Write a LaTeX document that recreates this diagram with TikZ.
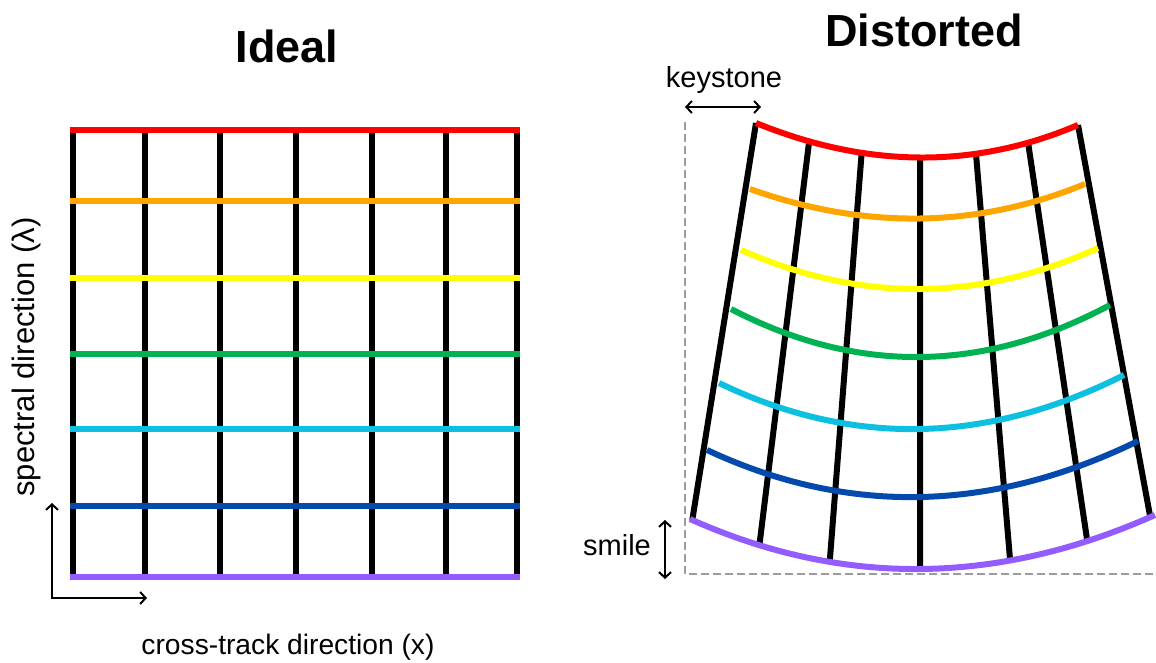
\documentclass[tikz,border=0pt]{standalone}
\usepackage{fontspec}
\setmainfont{Liberation Sans}
\usetikzlibrary{arrows.meta,calc}
\definecolor{rowred}{RGB}{255,0,0}
\definecolor{roworange}{RGB}{255,165,0}
\definecolor{rowyellow}{RGB}{255,255,0}
\definecolor{rowgreen}{RGB}{0,178,82}
\definecolor{rowcyan}{RGB}{14,192,224}
\definecolor{rowblue}{RGB}{4,74,172}
\definecolor{rowpurple}{RGB}{146,92,255}
\definecolor{guide}{RGB}{155,155,160}
\begin{document}
\begin{tikzpicture}[x=1pt,y=-1pt,
  gridline/.style={line width=6pt,black},
  band/.style={line width=6pt},
  guideline/.style={guide,line width=2.2pt,dash pattern=on 8pt off 4pt},
  tip/.tip={Straight Barb[length=5.5pt,width=12pt,line width=2pt]},
  axes/.style={line width=2pt,{tip}-{tip}},
  span/.style={line width=2pt,{tip}-{tip}},
  label/.style={font=\fontsize{29}{35}\selectfont,inner sep=0pt},
  heading/.style={font=\fontsize{45}{54}\selectfont\bfseries,inner sep=0pt}]
\useasboundingbox (0,0) rectangle (1156,662);

% ---------- ideal grid ----------
\foreach \x in {72.5,145,220,296,372,446,517}
  \draw[gridline] (\x,130) -- (\x,576.5);
\foreach \y/\c in {130/rowred,201/roworange,278/rowyellow,354/rowgreen,
                   429/rowcyan,505.5/rowblue,576.5/rowpurple}
  \draw[band,\c] (69.5,\y) -- (520,\y);

% axes
\coordinate (yend) at (52,503);
\coordinate (origin) at (52,598);
\coordinate (xend) at (147,598);
\draw[axes] (yend) -- (origin) -- (xend);

\node[heading,anchor=base] (ideal) at (287,62) {Ideal};
\node[label,font=\fontsize{28.2}{34}\selectfont,anchor=base] (xlabel) at (288,654) {cross-track direction (x)};
\node[label,font=\fontsize{31}{37}\selectfont,rotate=90] (ylabel) at (26,357) {spectral direction (λ)};

% ---------- distorted grid ----------
% top edge (red) and bottom edge (purple) carry the column end points
\path (756,123) .. controls ($(756,123)!2/3!(923,191)$) and ($(1078,125)!2/3!(923,191)$) .. (1078,125)
  coordinate[pos=0] (t0) coordinate[pos=0.16] (t1) coordinate[pos=0.32] (t2)
  coordinate[pos=0.5] (t3) coordinate[pos=0.675] (t4) coordinate[pos=0.84] (t5)
  coordinate[pos=1] (t6);
\path (690,519) .. controls ($(690,519)!2/3!(917.5,621)$) and ($(1155,515)!2/3!(917.5,621)$) .. (1155,515)
  coordinate[pos=0.005] (b0) coordinate[pos=0.152] (b1) coordinate[pos=0.305] (b2)
  coordinate[pos=0.5] (b3) coordinate[pos=0.693] (b4) coordinate[pos=0.857] (b5)
  coordinate[pos=0.99] (b6);

\foreach \i in {0,...,6}
  \draw[gridline] (t\i) -- (b\i);

\foreach \c/\lx/\ly/\cx/\cy/\rx/\ry in {
    rowred/756/123/923/191/1078/125,
    roworange/750/189/922.5/250.5/1085/184,
    rowyellow/741/250/920.5/329/1098/248,
    rowgreen/731/309/919.5/407/1110/305,
    rowcyan/719/383/918.5/479/1124/375,
    rowblue/707/450/917.5/548.5/1138/441,
    rowpurple/690/519/917.5/621/1155/515}
  \draw[band,\c] (\lx,\ly) .. controls ($(\lx,\ly)!2/3!(\cx,\cy)$)
      and ($(\rx,\ry)!2/3!(\cx,\cy)$) .. (\rx,\ry);

% reference frame of the undistorted grid
\coordinate (gtop) at (685,122);
\coordinate (gcorner) at (685,574);
\coordinate (gend) at (1160,574);
\draw[guideline] (gtop) -- (gcorner) -- (gend);

% keystone and smile measures
\coordinate (ka) at (685,107);
\coordinate (kb) at (761,107);
\draw[span] (ka) -- (kb);
\coordinate (sa) at (665,520);
\coordinate (sb) at (665,579);
\draw[span] (sa) -- (sb);

\node[heading,anchor=base] (distorted) at (924,46) {Distorted};
\node[label,anchor=base] (keystone) at (724,87) {keystone};
\node[label,anchor=base] (smile) at (617,555) {smile};
\end{tikzpicture}
\end{document}
